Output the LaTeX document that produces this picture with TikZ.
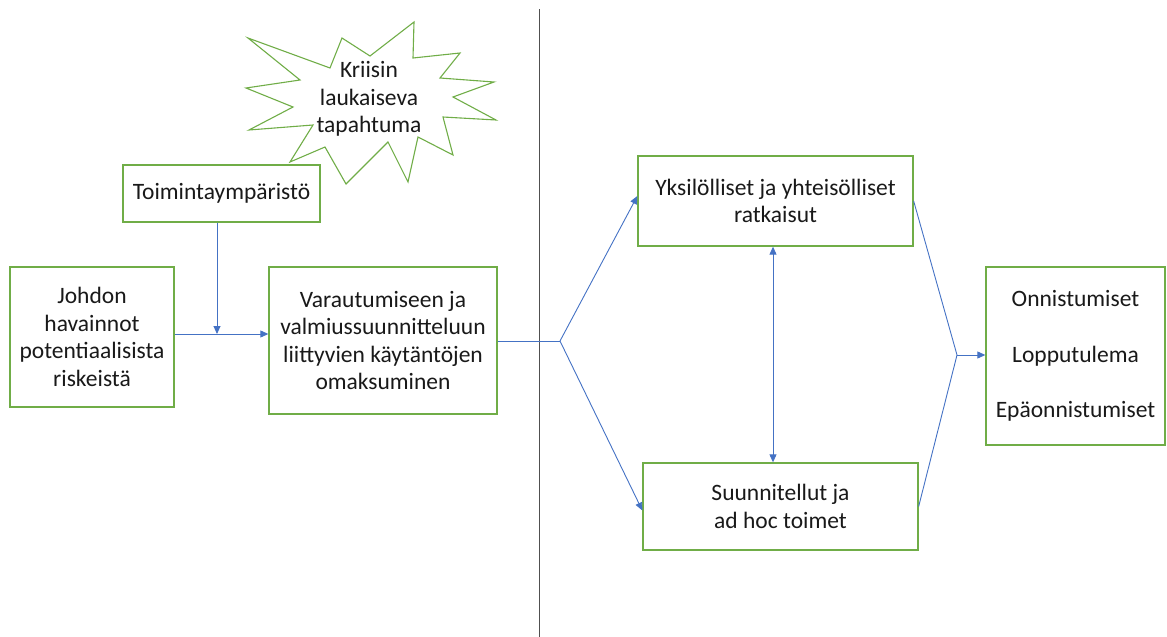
\documentclass[tikz,border=0pt]{standalone}
\usepackage{fontspec}
\setmainfont{Carlito}
\usetikzlibrary{arrows.meta}
\definecolor{boxgreen}{RGB}{112,173,71}
\definecolor{arrblue}{RGB}{68,114,196}
\definecolor{divgray}{RGB}{80,80,80}
\begin{document}
\begin{tikzpicture}[x=1pt,y=-1pt,
  every node/.style={font=\fontsize{23.5}{27.5}\selectfont, align=center, inner sep=0pt, text=black!90},
  gbox/.style={draw=boxgreen, line width=1.3pt, fill=white},
  arr/.style={draw=arrblue, line width=0.9pt, -{Triangle[length=8pt,width=7pt]}},
  arrtwo/.style={draw=arrblue, line width=0.9pt, {Triangle[length=8pt,width=7pt]}-{Triangle[length=8pt,width=7pt]}},
  plainline/.style={draw=arrblue, line width=0.9pt},
  divider/.style={draw=divgray, line width=1pt}]
\useasboundingbox (0,0) rectangle (1167,637);

% divider
\coordinate (vt) at (539,9);
\coordinate (vb) at (539,637);
\draw[divider] (vt) -- (vb);

% starburst
\draw[draw=boxgreen, line width=1.1pt, fill=white]
  (248,38) -- (330,68) -- (342,38) -- (370,56) -- (414,22) -- (413,58) --
  (460,53) -- (440,78) -- (494,82) -- (453,97) -- (496,120) -- (443,117) --
  (453,155) -- (418,137) -- (408,182) -- (388,142) -- (346,184) -- (325,147) --
  (290,162) -- (313,125) -- (249,130) -- (293,107) -- (246,88) -- (300,80) -- cycle;
\node (kri) at (369,99) {Kriisin\\laukaiseva\\tapahtuma};

% boxes
\node[gbox, minimum width=197pt, minimum height=57pt] (toim) at (221.5,193.5) {Toimintaympäristö};
\node[gbox, minimum width=164pt, minimum height=140pt] (joh) at (92,337) {Johdon\\havainnot\\potentiaalisista\\riskeistä};
\node[gbox, minimum width=228pt, minimum height=147pt] (var) at (383,340.5) {Varautumiseen ja\\valmiussuunnitteluun\\liittyvien käytäntöjen\\omaksuminen};
\node[gbox, minimum width=275pt, minimum height=90pt] (yks) at (775.5,201) {Yksilölliset ja yhteisölliset\\ratkaisut};
\node[gbox, minimum width=275pt, minimum height=87pt] (sun) at (780.5,506.5) {Suunnitellut ja\\ad hoc toimet};
\node[gbox, minimum width=179pt, minimum height=178pt] (onn) at (1075.5,356) {Onnistumiset\\[28pt]Lopputulema\\[28pt]Epäonnistumiset};

% connectors
\coordinate (mj) at (217,334);
\draw[arr] (joh.east |- mj) -- (var.west |- mj);
\draw[arr] (toim.south -| mj) -- (mj);

\coordinate (ja) at (560,341);
\draw[plainline] (var.east |- ja) -- (ja);
\draw[arr] (ja) -- ([yshift=5pt]yks.west);
\draw[arr] (ja) -- ([yshift=-4pt]sun.west);

\coordinate (dv) at (773,350);
\draw[arrtwo] (yks.south -| dv) -- (sun.north -| dv);

\coordinate (jb) at (957,355);
\draw[plainline] (yks.east) -- (jb);
\draw[plainline] (sun.east) -- (jb);
\draw[arr] (jb) -- (onn.west |- jb);
\end{tikzpicture}
\end{document}
